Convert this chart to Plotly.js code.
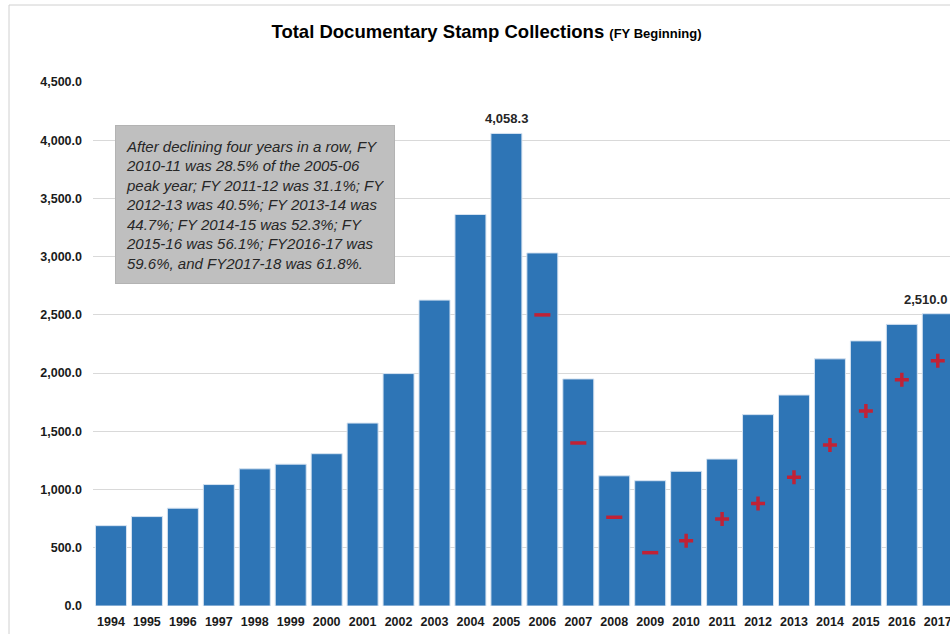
<!DOCTYPE html>
<html>
<head>
<meta charset="utf-8">
<script src="https://cdn.plot.ly/plotly-3.0.1.min.js"></script>
<style>html,body{margin:0;padding:0;background:#fff;}#chart{width:950px;height:634px;}</style>
</head>
<body>
<div id="chart"></div>
<script>
// ---- data ----
const years = ['1994','1995','1996','1997','1998','1999','2000','2001','2002','2003','2004','2005',
               '2006','2007','2008','2009','2010','2011','2012','2013','2014','2015','2016','2017'];
const collections = [690, 768, 840, 1043, 1178, 1218, 1308, 1571, 1996, 2627, 3362, 4058.3,
                     3032, 1950, 1118, 1076, 1156.6, 1262.1, 1643.6, 1812, 2122.5, 2276.7, 2418.7, 2510.0];
const signYears = ['2006','2007','2008','2009','2010','2011','2012','2013','2014','2015','2016','2017'];
const signValues = [2500, 1400, 762, 458, 561, 747, 880, 1106, 1383, 1675, 1942, 2107];
const signTypes = ['-','-','-','-','+','+','+','+','+','+','+','+'];
const labelYears = ['2005','2017'];
const labelValues = [4058.3, 2510.0];
const noteLines = [
  'After declining four years in a row, FY',
  '2010-11 was 28.5% of the 2005-06',
  'peak year; FY 2011-12 was 31.1%; FY',
  '2012-13 was 40.5%; FY 2013-14 was',
  '44.7%; FY 2014-15 was 52.3%; FY',
  '2015-16 was 56.1%; FY2016-17 was',
  '59.6%, and FY2017-18 was 61.8%.'
];
const yTicks = [0, 500, 1000, 1500, 2000, 2500, 3000, 3500, 4000, 4500];

// ---- layout helpers ----
const W = 950, H = 634, L = 93, R = 0, T = 82, B = 28;
const PW = W - L - R, PH = H - T - B;
const px2x = p => (p - L) / PW;
const px2y = p => 1 - (p - T) / PH;
const FONT = 'Liberation Sans, Arial, sans-serif';

const bars = {
  type: 'bar', x: years, y: collections,
  marker: {color: '#2E75B6', line: {color: '#d6e3f1', width: 1}},
  hoverinfo: 'x+y'
};
const signs = {
  type: 'scatter', mode: 'markers', x: signYears, y: signValues,
  marker: {
    symbol: signTypes.map(s => s === '-' ? 'line-ew' : 'cross-thin'),
    size: signTypes.map(s => s === '-' ? 11.5 : 10),
    color: '#ff0000',
    line: {color: '#ff0000', width: 3.5}
  },
  cliponaxis: false, hoverinfo: 'skip'
};

const fmt = v => v.toLocaleString('en-US', {minimumFractionDigits: 1, maximumFractionDigits: 1});

const annotations = labelYears.map((yr, i) => ({
  x: years.indexOf(yr), y: labelValues[i], xref: 'x', yref: 'y',
  text: '<b>' + fmt(labelValues[i]) + '</b>', showarrow: false,
  xanchor: 'center', yanchor: 'bottom', yshift: 5,
  xshift: (i === labelYears.length - 1) ? -12 : 0,
  font: {family: FONT, size: 13, color: '#262626'}
}));
annotations.push({
  xref: 'paper', yref: 'paper', x: px2x(115), y: px2y(125),
  xanchor: 'left', yanchor: 'top', align: 'left',
  text: noteLines.map(s => '<i>' + s + '</i>').join('<br>'),
  showarrow: false, bgcolor: '#bfbfbf', bordercolor: '#b3b3b3', borderwidth: 1,
  borderpad: 10, width: 258, height: 137,
  font: {family: FONT, size: 15, color: '#262626'}
});

const layout = {
  width: W, height: H,
  margin: {l: L, r: R, t: T, b: B, pad: 0},
  paper_bgcolor: '#ffffff', plot_bgcolor: '#ffffff',
  showlegend: false, bargap: 0.138,
  title: {
    text: '<b>Total Documentary Stamp Collections</b> <span style="font-size:13px"><b>(FY Beginning)</b></span>',
    xref: 'container', yref: 'container', x: 486.5 / W, y: 1 - 32 / H,
    xanchor: 'center', yanchor: 'middle',
    font: {family: FONT, size: 18.5, color: '#000000'}
  },
  xaxis: {
    type: 'category', range: [-0.5, 23.34], fixedrange: true,
    showgrid: false, zeroline: false, showline: false, ticks: '',
    ticklabelstandoff: 6,
    tickfont: {family: FONT, size: 12.5, color: '#1a1a1a', weight: 'bold'}
  },
  yaxis: {
    range: [0, 4500], tickvals: yTicks, ticktext: yTicks.map(fmt),
    showgrid: true, gridcolor: '#d9d9d9', gridwidth: 1,
    zeroline: false, showline: false, ticks: '',
    ticklabelstandoff: 10,
    tickfont: {family: FONT, size: 12.5, color: '#1a1a1a', weight: 'bold'}
  },
  shapes: [
    {type: 'line', xref: 'paper', yref: 'paper', x0: px2x(9), x1: px2x(9), y0: px2y(5), y1: px2y(H + 5),
     line: {color: '#d0d0d0', width: 1}},
    {type: 'line', xref: 'paper', yref: 'paper', x0: px2x(9), x1: px2x(W + 5), y0: px2y(5), y1: px2y(5),
     line: {color: '#d0d0d0', width: 1}}
  ],
  annotations: annotations
};

Plotly.newPlot('chart', [bars, signs], layout, {staticPlot: true, displayModeBar: false});
</script>
</body>
</html>
